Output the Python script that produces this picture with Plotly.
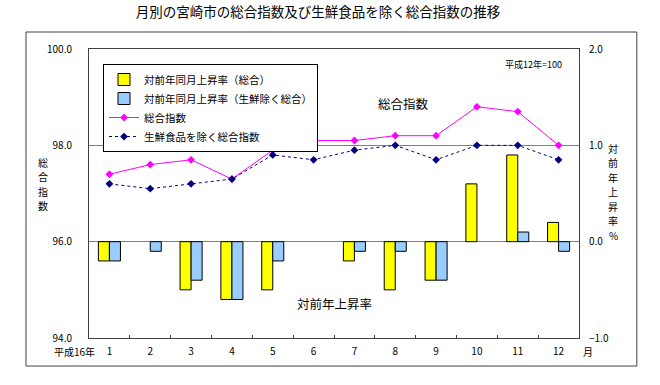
import plotly.graph_objects as go

months = ["1", "2", "3", "4", "5", "6", "7", "8", "9", "10", "11", "12"]
rate_total = [-0.2, 0.0, -0.5, -0.6, -0.5, 0.0, -0.2, -0.5, -0.4, 0.6, 0.9, 0.2]
rate_ex_fresh = [-0.2, -0.1, -0.4, -0.6, -0.2, 0.0, -0.1, -0.1, -0.4, 0.0, 0.1, -0.1]
index_total = [97.4, 97.6, 97.7, 97.3, 97.9, 98.1, 98.1, 98.2, 98.2, 98.8, 98.7, 98.0]
index_ex_fresh = [97.2, 97.1, 97.2, 97.3, 97.8, 97.7, 97.9, 98.0, 97.7, 98.0, 98.0, 97.7]
left_ticks = [94, 96, 98, 100]
right_ticks = [-1, 0, 1, 2]

FONT = "Noto Sans CJK JP"


def outline(vals):
    return [0 if v == 0 else 1 for v in vals]


fig = go.Figure()
fig.add_trace(go.Bar(x=months, y=rate_total, name="対前年同月上昇率（総合）",
                     marker=dict(color="#FFFF00", line=dict(color="#000000", width=outline(rate_total))),
                     yaxis="y2", offsetgroup="a"))
fig.add_trace(go.Bar(x=months, y=rate_ex_fresh, name="対前年同月上昇率（生鮮除く総合）",
                     marker=dict(color="#99CCFF", line=dict(color="#000000", width=outline(rate_ex_fresh))),
                     yaxis="y2", offsetgroup="b"))
fig.add_trace(go.Scatter(x=months, y=index_total, name="総合指数", mode="lines+markers",
                         line=dict(color="#FF00FF", width=1),
                         marker=dict(symbol="diamond", size=6, color="#FF00FF")))
fig.add_trace(go.Scatter(x=months, y=index_ex_fresh, name="生鮮食品を除く総合指数", mode="lines+markers",
                         line=dict(color="#000080", width=1, dash="dot"),
                         marker=dict(symbol="diamond", size=6, color="#000080")))

fig.update_layout(
    width=660, height=385, autosize=False,
    margin=dict(l=89, r=81, t=49, b=47),
    paper_bgcolor="white", plot_bgcolor="white",
    font=dict(family=FONT, size=10, color="#000000"),
    barmode="group", bargap=0.46, bargroupgap=0,
    title=dict(text="月別の宮崎市の総合指数及び生鮮食品を除く総合指数の推移",
               x=0.482, xanchor="center", y=0.968, yanchor="middle",
               font=dict(family=FONT, size=13.5, color="#000000")),
    xaxis=dict(type="category", categoryorder="array", categoryarray=months,
               range=[-0.5, 11.5], showline=True, linecolor="#404040", linewidth=1,
               mirror=True, ticks="inside", tickson="boundaries", ticklen=3,
               tickcolor="#404040", showgrid=False, tickfont=dict(size=10),
               ticklabelstandoff=4),
    yaxis=dict(range=[94, 100], tickvals=left_ticks, tickformat=".1f",
               showline=True, linecolor="#404040", linewidth=1,
               showgrid=True, gridcolor="#808080", gridwidth=1, zeroline=False,
               ticks="", ticklabelstandoff=14, tickfont=dict(size=10)),
    yaxis2=dict(range=[-1, 2], tickvals=right_ticks, tickformat=".1f",
                overlaying="y", side="right", showline=True, linecolor="#404040",
                linewidth=1, showgrid=False, zeroline=False, ticks="",
                ticklabelstandoff=7, tickfont=dict(size=10)),
    legend=dict(x=0.0286, y=0.948, xanchor="left", yanchor="top",
                bordercolor="#000000", borderwidth=1, bgcolor="white",
                font=dict(family=FONT, size=10.5), traceorder="normal",
                tracegroupgap=0, itemwidth=30),
    showlegend=True,
)

# outer frame
fig.add_shape(type="rect", xref="paper", yref="paper",
              x0=-0.1286, x1=1.118, y0=-0.097, y1=1.0588,
              line=dict(color="#404040", width=1), layer="below")

ann = [
    dict(text="平成12年=100", x=0.908, y=0.945, size=9),
    dict(text="総合指数", x=0.641, y=0.813, size=12.5),
    dict(text="対前年上昇率", x=0.5, y=0.118, size=12.5),
    dict(text="平成16年", x=-0.029, y=-0.048, size=10),
    dict(text="月", x=1.018, y=-0.048, size=10),
]
for a in ann:
    fig.add_annotation(text=a["text"], x=a["x"], y=a["y"], xref="paper", yref="paper",
                       showarrow=False, xanchor="center", yanchor="middle",
                       font=dict(family=FONT, size=a["size"], color="#000000"))

# stacked vertical axis titles, one character per annotation
left_title = "総合指数"
for i, ch in enumerate(left_title):
    py = 162 + 14.5 * i
    fig.add_annotation(text=ch, x=(43 - 89) / 490, y=(338 - py) / 289, xref="paper", yref="paper",
                       showarrow=False, xanchor="center", yanchor="middle", borderpad=0,
                       font=dict(family=FONT, size=10, color="#000000"))
right_title = "対前年上昇率%"
for i, ch in enumerate(right_title):
    py = 148 + 14.5 * i
    fig.add_annotation(text=ch, x=(613 - 89) / 490, y=(338 - py) / 289, xref="paper", yref="paper",
                       showarrow=False, xanchor="center", yanchor="middle", borderpad=0,
                       font=dict(family=FONT, size=10, color="#000000"))

fig.write_html("out.html", config={"displayModeBar": False},
               post_script="document.body.style.margin='0px';document.body.style.overflow='hidden';")
